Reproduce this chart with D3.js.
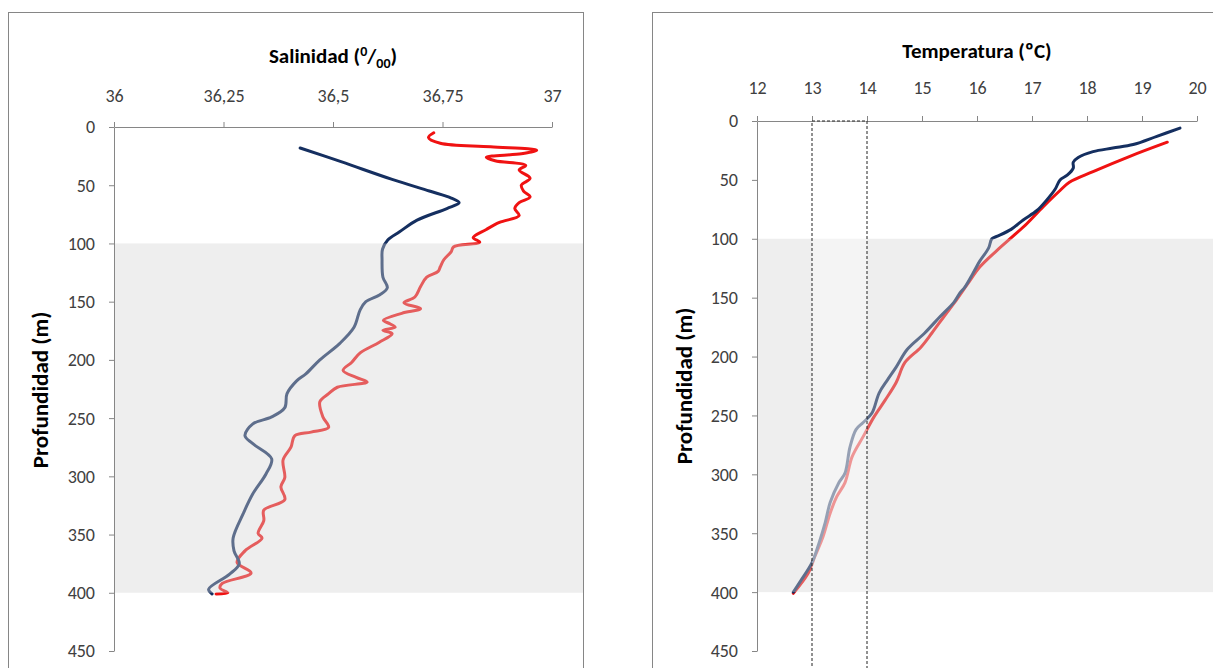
<!DOCTYPE html>
<html>
<head>
<meta charset="utf-8">
<script src="https://cdn.jsdelivr.net/npm/d3@7"></script>
<style>
  body { margin: 0; background: #fff; }
  text { font-family: Carlito, Calibri, Lato, sans-serif; }
  .axis path, .axis line { stroke: #868686; }
  .axis text { fill: #404040; font-size: 18px; }
</style>
</head>
<body>
<div id="chart"></div>
<script>
// salinity profile, red cast (depth m / salinity)
const salRedDepth = [5, 9, 14, 17, 20, 23, 26, 29, 33, 37, 44, 50, 55, 60, 65, 70, 76, 82, 88, 95, 99, 103, 107, 114, 120, 124, 129, 137, 146, 151, 156, 160, 166, 169, 172, 174.5, 177.5, 185, 194, 202, 209, 215, 219, 223.5, 229, 236, 249, 258, 262, 265, 275, 286, 301, 309, 320, 329, 338, 349, 353, 364, 374, 383, 392, 396, 400, 401];
const salRed = [36.73, 36.718, 36.745, 36.86, 36.965, 36.93, 36.85, 36.87, 36.94, 36.925, 36.95, 36.93, 36.935, 36.95, 36.925, 36.915, 36.925, 36.88, 36.85, 36.82, 36.835, 36.775, 36.77, 36.753, 36.745, 36.74, 36.714, 36.70, 36.687, 36.662, 36.70, 36.657, 36.615, 36.63, 36.642, 36.614, 36.635, 36.605, 36.562, 36.543, 36.523, 36.553, 36.578, 36.51, 36.49, 36.47, 36.477, 36.49, 36.45, 36.413, 36.404, 36.386, 36.39, 36.381, 36.39, 36.342, 36.342, 36.329, 36.338, 36.299, 36.281, 36.313, 36.247, 36.242, 36.26, 36.233];

// salinity profile, blue cast
const salBlueDepth = [18, 30, 45, 55, 61, 65, 70, 80, 90, 97, 105, 114, 129, 138, 144, 150, 157, 172, 186, 200, 212, 218, 229, 241, 249, 255, 265, 272, 285, 298, 315, 332, 353, 364, 375, 384, 397, 401];
const salBlue = [36.425, 36.52, 36.635, 36.72, 36.77, 36.788, 36.76, 36.692, 36.652, 36.625, 36.613, 36.612, 36.614, 36.624, 36.607, 36.575, 36.562, 36.548, 36.515, 36.47, 36.438, 36.417, 36.395, 36.39, 36.36, 36.317, 36.299, 36.317, 36.36, 36.347, 36.317, 36.295, 36.272, 36.274, 36.286, 36.264, 36.216, 36.224];

// temperature profile, blue cast (depth m / ºC)
const tempBlueDepth = [6, 13, 20, 23, 26, 31, 35, 40, 46, 50, 58, 67, 76, 84, 92, 98, 100, 108, 119, 129, 141, 146, 154, 166, 180, 194, 209, 220, 231, 248, 256, 262, 277, 299, 307, 324, 341, 358, 375, 390, 400];
const tempBlue = [19.69, 19.27, 18.84, 18.47, 18.11, 17.84, 17.75, 17.75, 17.64, 17.51, 17.42, 17.27, 17.09, 16.84, 16.62, 16.36, 16.27, 16.21, 16.05, 15.93, 15.78, 15.69, 15.58, 15.33, 15.05, 14.73, 14.53, 14.37, 14.22, 14.09, 13.93, 13.8, 13.69, 13.6, 13.49, 13.33, 13.24, 13.13, 13.0, 12.8, 12.66];

// temperature profile, red cast
const tempRedDepth = [18, 30, 43, 52, 59, 73, 87, 98, 110, 124, 139, 151, 166, 180, 192, 205, 222, 237, 251, 268, 285, 307, 319, 333, 353, 370, 384, 401];
const tempRed = [19.46, 18.78, 18.11, 17.68, 17.51, 17.2, 16.91, 16.65, 16.36, 16.05, 15.82, 15.64, 15.4, 15.18, 14.98, 14.69, 14.53, 14.33, 14.13, 13.93, 13.73, 13.6, 13.45, 13.33, 13.2, 13.05, 12.93, 12.66];

const salTicks = [36, 36.25, 36.5, 36.75, 37];
const tempTicks = [12, 13, 14, 15, 16, 17, 18, 19, 20];
const depthTicks = [0, 50, 100, 150, 200, 250, 300, 350, 400, 450];
const bandDepth = [100, 400];   // shaded layer
const tempBox = [13, 14];       // dashed box

const navy = "#152f60";
const red = "#f01212";

const svg = d3.select("#chart")
    .append("svg")
    .attr("width", 1213)
    .attr("height", 668);

const toPts = (depths, vals) => depths.map((d, i) => ({ depth: d, v: vals[i] }));

function panel(opt) {
    const g = svg.append("g");

    // frame
    g.append("rect")
        .attr("x", opt.frame[0] + 0.5).attr("y", 12.5)
        .attr("width", opt.frame[1] - opt.frame[0]).attr("height", 700)
        .attr("fill", "none").attr("stroke", "#868686");

    const x = d3.scaleLinear().domain(opt.xDomain).range(opt.xRange);
    const y = d3.scaleLinear().domain([0, 450]).range(opt.yRange);

    const line = d3.line()
        .x(d => x(d.v))
        .y(d => y(d.depth))
        .curve(d3.curveCatmullRom.alpha(0.5));

    opt.series.forEach(s => {
        g.append("path")
            .datum(s.pts)
            .attr("d", line)
            .attr("fill", "none")
            .attr("stroke", s.color)
            .attr("stroke-width", 3)
            .attr("stroke-linejoin", "round")
            .attr("stroke-linecap", "round");
    });

    // translucent grey layer over the lines
    g.append("rect")
        .attr("x", x(opt.xDomain[0]))
        .attr("y", y(bandDepth[0]))
        .attr("width", opt.bandRight - x(opt.xDomain[0]))
        .attr("height", y(bandDepth[1]) - y(bandDepth[0]))
        .attr("fill", "#d3d3d3")
        .attr("fill-opacity", 0.39);

    g.append("g")
        .attr("class", "axis x-axis")
        .attr("transform", `translate(0,${y(0)})`)
        .call(d3.axisTop(x).tickValues(opt.xTicks).tickFormat(opt.fmt)
            .tickSize(5).tickSizeOuter(0).tickPadding(opt.xPad));

    g.append("g")
        .attr("class", "axis y-axis")
        .attr("transform", `translate(${x(opt.xDomain[0])},0)`)
        .call(d3.axisLeft(y).tickValues(depthTicks)
            .tickSize(5).tickSizeOuter(0).tickPadding(14));

    g.select(".x-axis").selectAll("text").attr("dy", "0em");
    g.select(".y-axis").selectAll("text").attr("dy", "0.33em");

    g.append("text")
        .attr("transform", `translate(${opt.yTitleX},${opt.yTitleY}) rotate(-90)`)
        .attr("text-anchor", "middle")
        .attr("dy", "0.35em")
        .attr("font-size", 23)
        .attr("font-weight", "bold")
        .attr("fill", "#000")
        .text("Profundidad (m)");

    return { g, x, y };
}

// ---- salinity
const left = panel({
    frame: [8, 583],
    xDomain: [36, 37], xRange: [114, 552], yRange: [127, 651],
    xTicks: salTicks, fmt: d => String(d).replace(".", ","), xPad: 20,
    bandRight: 583,
    yTitleX: 40, yTitleY: 390,
    series: [
        { pts: toPts(salRedDepth, salRed), color: red },
        { pts: toPts(salBlueDepth, salBlue), color: navy }
    ]
});

const salTitle = left.g.append("text")
    .attr("x", 333).attr("y", 63)
    .attr("text-anchor", "middle")
    .attr("font-size", 21)
    .attr("font-weight", "bold")
    .attr("fill", "#000");
salTitle.append("tspan").text("Salinidad (");
salTitle.append("tspan").attr("dy", -7).attr("font-size", 14).text("0");
salTitle.append("tspan").attr("dy", 7).text("/");
salTitle.append("tspan").attr("dy", 5).attr("font-size", 14).text("00");
salTitle.append("tspan").attr("dy", -5).text(")");

// ---- temperature
const right = panel({
    frame: [652, 1240],
    xDomain: [12, 20], xRange: [757, 1197], yRange: [121, 651],
    xTicks: tempTicks, fmt: d3.format("d"), xPad: 22,
    bandRight: 1213,
    yTitleX: 684, yTitleY: 386,
    series: [
        { pts: toPts(tempRedDepth, tempRed), color: red },
        { pts: toPts(tempBlueDepth, tempBlue), color: navy }
    ]
});

right.g.append("text")
    .attr("x", 977).attr("y", 58)
    .attr("text-anchor", "middle")
    .attr("font-size", 21)
    .attr("font-weight", "bold")
    .attr("fill", "#000")
    .text("Temperatura (ºC)");

// dashed 13-14 ºC box
right.g.append("rect")
    .attr("x", right.x(tempBox[0]))
    .attr("y", right.y(0))
    .attr("width", right.x(tempBox[1]) - right.x(tempBox[0]))
    .attr("height", 600)
    .attr("fill", "#fff")
    .attr("fill-opacity", 0.35)
    .attr("stroke", "#222")
    .attr("stroke-width", 1)
    .attr("stroke-dasharray", "3,2");
</script>
</body>
</html>
